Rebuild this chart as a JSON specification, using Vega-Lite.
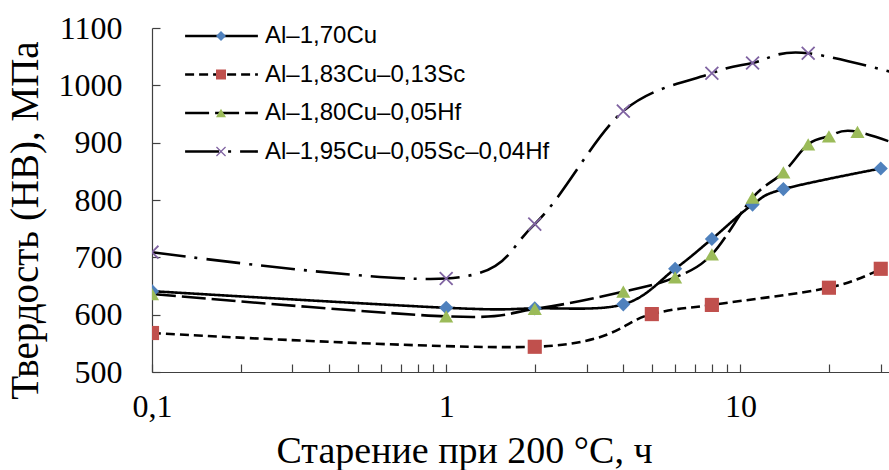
{
  "$schema": "https://vega.github.io/schema/vega-lite/v6.json",
  "width": 737,
  "height": 344,
  "autosize": {"type": "none"},
  "padding": {"left": 152, "top": 28, "right": 0, "bottom": 98},
  "background": "white",
  "config": {
    "view": {"stroke": null},
    "axis": {
      "domainColor": "#404040",
      "domainWidth": 1.2,
      "tickColor": "#404040",
      "tickWidth": 1.2,
      "labelFont": "Liberation Serif",
      "titleFont": "Liberation Serif",
      "labelColor": "black",
      "titleColor": "black",
      "grid": false,
      "titleFontWeight": "normal"
    }
  },
  "data": {
    "values": [
      {"series": "Al–1,70Cu", "t": 0.1, "hb": 641},
      {"series": "Al–1,70Cu", "t": 1, "hb": 612},
      {"series": "Al–1,70Cu", "t": 2, "hb": 611},
      {"series": "Al–1,70Cu", "t": 4, "hb": 618},
      {"series": "Al–1,70Cu", "t": 6, "hb": 680},
      {"series": "Al–1,70Cu", "t": 8, "hb": 732},
      {"series": "Al–1,70Cu", "t": 11, "hb": 792},
      {"series": "Al–1,70Cu", "t": 14, "hb": 819},
      {"series": "Al–1,70Cu", "t": 30, "hb": 855},
      {"series": "Al–1,83Cu–0,13Sc", "t": 0.1, "hb": 568},
      {"series": "Al–1,83Cu–0,13Sc", "t": 2, "hb": 544},
      {"series": "Al–1,83Cu–0,13Sc", "t": 5, "hb": 601},
      {"series": "Al–1,83Cu–0,13Sc", "t": 8, "hb": 617},
      {"series": "Al–1,83Cu–0,13Sc", "t": 20, "hb": 647},
      {"series": "Al–1,83Cu–0,13Sc", "t": 30, "hb": 680},
      {"series": "Al–1,80Cu–0,05Hf", "t": 0.1, "hb": 636},
      {"series": "Al–1,80Cu–0,05Hf", "t": 1, "hb": 597},
      {"series": "Al–1,80Cu–0,05Hf", "t": 2, "hb": 610},
      {"series": "Al–1,80Cu–0,05Hf", "t": 4, "hb": 640},
      {"series": "Al–1,80Cu–0,05Hf", "t": 6, "hb": 665},
      {"series": "Al–1,80Cu–0,05Hf", "t": 8, "hb": 705},
      {"series": "Al–1,80Cu–0,05Hf", "t": 11, "hb": 804},
      {"series": "Al–1,80Cu–0,05Hf", "t": 14, "hb": 848},
      {"series": "Al–1,80Cu–0,05Hf", "t": 17, "hb": 897},
      {"series": "Al–1,80Cu–0,05Hf", "t": 20, "hb": 911},
      {"series": "Al–1,80Cu–0,05Hf", "t": 25, "hb": 919},
      {"series": "Al–1,80Cu–0,05Hf", "t": 48, "hb": 870},
      {"series": "Al–1,95Cu–0,05Sc–0,04Hf", "t": 0.1, "hb": 709},
      {"series": "Al–1,95Cu–0,05Sc–0,04Hf", "t": 1, "hb": 663},
      {"series": "Al–1,95Cu–0,05Sc–0,04Hf", "t": 2, "hb": 758},
      {"series": "Al–1,95Cu–0,05Sc–0,04Hf", "t": 4, "hb": 955},
      {"series": "Al–1,95Cu–0,05Sc–0,04Hf", "t": 8, "hb": 1021},
      {"series": "Al–1,95Cu–0,05Sc–0,04Hf", "t": 11, "hb": 1039},
      {"series": "Al–1,95Cu–0,05Sc–0,04Hf", "t": 17, "hb": 1056},
      {"series": "Al–1,95Cu–0,05Sc–0,04Hf", "t": 48, "hb": 1000}
    ]
  },
  "encoding": {
    "x": {
      "field": "t",
      "type": "quantitative",
      "scale": {"type": "log", "domain": [0.1, 32], "nice": false},
      "axis": {
        "values": [0.1, 0.2, 0.3, 0.4, 0.5, 0.6, 0.7, 0.8, 0.9, 1, 2, 3, 4, 5, 6, 7, 8, 9, 10, 20, 30],
        "labelExpr": "datum.value < 0.15 ? '0,1' : (abs(datum.value - 1) < 0.01 ? '1' : (abs(datum.value - 10) < 0.01 ? '10' : ''))",
        "labelFontSize": 32,
        "labelPadding": 27,
        "labelFlush": false,
        "labelOverlap": false,
        "tickSize": -8,
        "title": "Старение при 200 °C, ч",
        "titleFontSize": 38,
        "titleX": 312,
        "titleY": 79,
        "titleBaseline": "middle",
        "titleAlign": "center"
      }
    },
    "y": {
      "field": "hb",
      "type": "quantitative",
      "scale": {"domain": [500, 1100], "nice": false},
      "axis": {
        "values": [500, 600, 700, 800, 900, 1000, 1100],
        "format": "d",
        "labelFontSize": 32,
        "labelPadding": 38,
        "labelFlush": false,
        "labelOverlap": false,
        "tickSize": -8,
        "title": "Твердость (НВ), МПа",
        "titleFontSize": 39,
        "titlePadding": 13,
        "titleY": 192
      }
    }
  },
  "layer": [
    {
      "mark": {"type": "line", "interpolate": "cardinal", "clip": true, "strokeWidth": 2.6, "color": "black"},
      "encoding": {
        "strokeDash": {
          "field": "series",
          "type": "nominal",
          "sort": ["Al–1,70Cu", "Al–1,83Cu–0,13Sc", "Al–1,80Cu–0,05Hf", "Al–1,95Cu–0,05Sc–0,04Hf"],
          "scale": {
            "range": [[1, 0], [9, 5], [24, 6], [34, 9, 3, 9]]
          },
          "legend": {
            "orient": "none",
            "legendX": 57.5,
            "legendY": -4,
            "title": null,
            "padding": 0,
            "symbolType": "M-5.6,0L5.6,0",
            "symbolSize": 169,
            "symbolStrokeWidth": 2.6,
            "symbolStrokeColor": "black",
            "labelFont": "Liberation Sans",
            "labelFontSize": 24,
            "labelColor": "black",
            "labelOffset": 31.5,
            "rowPadding": 14.5,
            "labelLimit": 400
          }
        }
      }
    },
    {
      "mark": {"type": "point", "filled": true, "clip": true, "size": 200, "strokeWidth": 0, "opacity": 1},
      "encoding": {
        "shape": {
          "field": "series",
          "type": "nominal",
          "scale": {
            "domain": ["Al–1,70Cu", "Al–1,83Cu–0,13Sc", "Al–1,80Cu–0,05Hf", "Al–1,95Cu–0,05Sc–0,04Hf"],
            "range": ["diamond", "square", "triangle-up", "M-1,-0.82L-0.82,-1L0,-0.18L0.82,-1L1,-0.82L0.18,0L1,0.82L0.82,1L0,0.18L-0.82,1L-1,0.82L-0.18,0Z"]
          },
          "legend": {
            "orient": "top-left",
            "offset": -4,
            "title": null,
            "padding": 0,
            "symbolOffset": 61,
            "labelFont": "Liberation Sans",
            "labelFontSize": 24,
            "labelOpacity": 0,
            "labelOffset": 5,
            "rowPadding": 14.5,
            "labelLimit": 400,
            "symbolStrokeWidth": 0
          }
        },
        "fill": {
          "field": "series",
          "type": "nominal",
          "scale": {
            "domain": ["Al–1,70Cu", "Al–1,83Cu–0,13Sc", "Al–1,80Cu–0,05Hf", "Al–1,95Cu–0,05Sc–0,04Hf"],
            "range": ["#4F81BD", "#C0504D", "#9BBB59", "#8064A2"]
          },
          "legend": {
            "orient": "top-left",
            "offset": -4,
            "title": null,
            "padding": 0,
            "symbolOffset": 61,
            "labelFont": "Liberation Sans",
            "labelFontSize": 24,
            "labelOpacity": 0,
            "labelOffset": 5,
            "rowPadding": 14.5,
            "labelLimit": 400,
            "symbolStrokeWidth": 0
          }
        }
      }
    }
  ]
}
